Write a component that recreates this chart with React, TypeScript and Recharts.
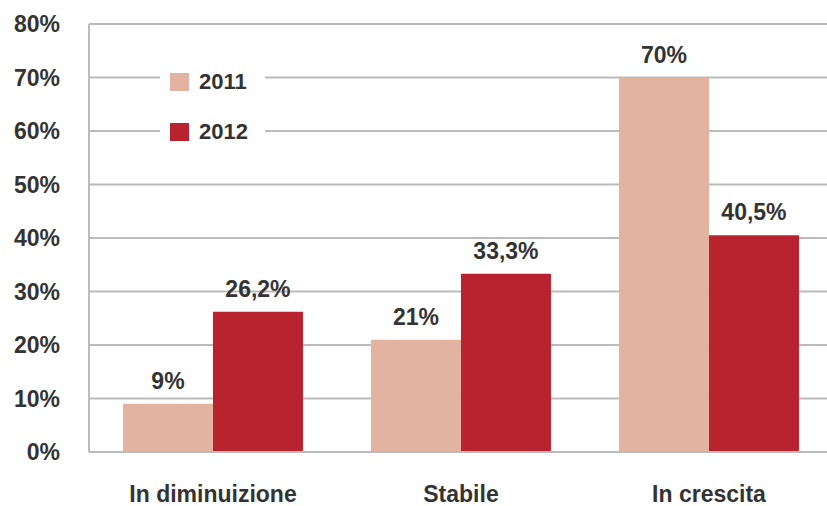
import { BarChart, Bar, XAxis, YAxis, CartesianGrid, LabelList } from "recharts"

const categories = ["In diminuizione", "Stabile", "In crescita"]
const values2011 = [9, 21, 70]
const values2012 = [26.2, 33.3, 40.5]
const yTicks = [0, 10, 20, 30, 40, 50, 60, 70, 80]
const seriesNames = ["2011", "2012"]

const data = categories.map((name, i) => ({
  name,
  y2011: values2011[i],
  y2012: values2012[i]
}))

const FONT = "'Liberation Sans', Arial, sans-serif"
const TEXT = "#333333"
const C2011 = "#e2b3a1"
const C2012 = "#b92330"
const GRID = "#bbbbbb"

const fmt = (v: any) => String(v).replace(".", ",") + "%"

const textStyle = { fontFamily: FONT, fontWeight: "bold", fontSize: 23, fill: TEXT }

function LegendBox() {
  const colors = [C2011, C2012]
  return (
    <div style={{ position: "absolute", left: 160, top: 58, width: 105, height: 96, background: "#fff" }}>
      {seriesNames.map((label, i) => (
        <div
          key={label}
          style={{
            position: "absolute",
            left: 10,
            top: 14 + i * 50,
            height: 20,
            display: "flex",
            alignItems: "center",
            fontFamily: FONT,
            fontWeight: "bold",
            fontSize: 22,
            color: TEXT
          }}
        >
          <span style={{ width: 19, height: 18, background: colors[i], display: "inline-block", marginRight: 10 }} />
          {label}
        </div>
      ))}
    </div>
  )
}

export default function App() {
  return (
    <div style={{ position: "absolute", left: 0, top: 0, width: 827, height: 506, overflow: "hidden", background: "#fff" }}>
      <BarChart
        width={835}
        height={506}
        data={data}
        margin={{ top: 24, right: 2, bottom: 0, left: 0 }}
        barCategoryGap="13.7%"
        barGap={0}
      >
        <CartesianGrid vertical={false} stroke={GRID} strokeWidth={2} />
        <XAxis
          dataKey="name"
          height={54}
          axisLine={{ stroke: GRID, strokeWidth: 2 }}
          tickLine={false}
          tickMargin={28}
          tick={textStyle}
        />
        <YAxis
          width={89}
          domain={[0, 80]}
          ticks={yTicks}
          tickFormatter={(v) => v + "%"}
          axisLine={{ stroke: GRID, strokeWidth: 2 }}
          tickLine={false}
          tickMargin={23}
          tick={textStyle}
        />
        <Bar dataKey="y2011" name={seriesNames[0]} fill={C2011} isAnimationActive={false}>
          <LabelList dataKey="y2011" position="top" offset={15} formatter={fmt} style={textStyle} />
        </Bar>
        <Bar dataKey="y2012" name={seriesNames[1]} fill={C2012} isAnimationActive={false}>
          <LabelList dataKey="y2012" position="top" offset={15} formatter={fmt} style={textStyle} />
        </Bar>
      </BarChart>
      <LegendBox />
    </div>
  )
}
